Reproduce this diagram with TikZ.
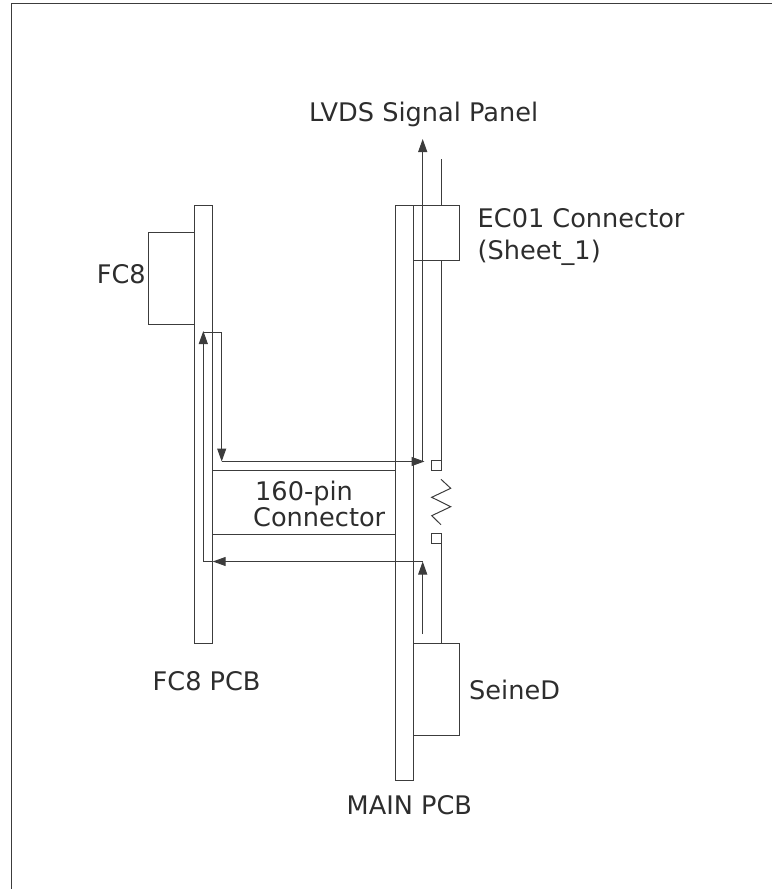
\documentclass[tikz,border=0pt]{standalone}
\usepackage{fontspec}
\setmainfont{DejaVu Sans}
\usetikzlibrary{arrows.meta,positioning,calc}
\definecolor{cLine}{RGB}{60,60,60}
\definecolor{cText}{RGB}{45,45,45}
\tikzset{
	pcbbox/.style={draw=cLine, line width=1pt, fill=none, inner sep=0pt, outer sep=0pt,
		anchor=north west},
	padbox/.style={pcbbox, minimum width=9.5pt, minimum height=9.5pt},
	marr/.style={-{Triangle[length=13pt,width=9pt]}, line width=1pt, draw=cLine},
	mline/.style={line width=1pt, draw=cLine},
	mlabel/.style={font=\fontsize{25.6}{32}\selectfont, text=cText, inner sep=0pt, anchor=base west, align=left},
}
\begin{document}
\begin{tikzpicture}[x=1pt,y=-1pt]
	\useasboundingbox (0,0) rectangle (772,889);
	% frame
	\coordinate (fbl) at (11,889);
	\coordinate (ftl) at (11,3.5);
	\coordinate (ftr) at (772,3.5);
	\draw[mline] (fbl) -- (ftl) -- (ftr);
	% boards
	\node[pcbbox, minimum width=18.5pt, minimum height=438pt] (fcpcb) at (194,205) {};
	\node[pcbbox, minimum width=18.5pt, minimum height=575.5pt] (mainpcb) at (395,205) {};
	\node[pcbbox, minimum width=46pt, minimum height=92pt] (fcchip) at (148,232) {};
	\node[pcbbox, minimum width=46pt, minimum height=55pt] (ecconn) at (413.5,205) {};
	\node[pcbbox, minimum width=45.5pt, minimum height=91.5pt] (seine) at (413.5,643.5) {};
	\node[pcbbox, minimum width=182.5pt, minimum height=64pt] (pinconn) at (212.5,470) {};
	\node[padbox] (padtop) at (431.5,460.8) {};
	\node[padbox] (padbot) at (431.5,533.8) {};
	% labels
	\node[mlabel] (lvds) at (309,121) {LVDS Signal Panel};
	\node[mlabel] (eclab) at (477.5,259) {EC01 Connector\\(Sheet\_1)};
	\node[mlabel] (fclab) at (96.7,283.5) {FC8};
	\node[mlabel, font=\fontsize{25.6}{26}\selectfont] (pinlab) at (253,526.7) {\hspace{2pt}160-pin\\Connector};
	\node[mlabel] (fcpcblab) at (152.5,690) {FC8 PCB};
	\node[mlabel] (seinelab) at (469,699) {SeineD};
	\node[mlabel] (mainlab) at (346.5,814) {MAIN PCB};
	% signal stubs on the main board
	\coordinate (stubtop) at (441,159);
	\draw[mline] (stubtop) -- (stubtop |- ecconn.north);
	\draw[mline] (stubtop |- ecconn.south) -- (padtop.north east);
	\draw[mline] (padbot.south east) -- (stubtop |- seine.north);
	% resistor
	\coordinate (ra) at (441,479.3);
	\coordinate (rb) at (450.7,488.3);
	\coordinate (rc) at (431.7,497.3);
	\coordinate (rd) at (450.7,506.7);
	\coordinate (re) at (431.7,515.7);
	\coordinate (rf) at (441,524.7);
	\draw[mline] (ra) -- (rb) -- (rc) -- (rd) -- (re) -- (rf);
	% signal path
	\coordinate (outtop) at (422.7,139);
	\coordinate (topturn) at (422.7,461);
	\coordinate (leftturn) at (221.7,461.5);
	\coordinate (upper) at (221.7,332.7);
	\coordinate (upleft) at (203.3,332.7);
	\coordinate (lowleft) at (203.3,561.5);
	\coordinate (lowin) at (212.7,561.5);
	\coordinate (lowright) at (422.7,561.5);
	\coordinate (seinetop) at (422.7,634);
	\draw[marr] (topturn) -- (outtop);
	\draw[marr] (upleft) -- (upper) -- (leftturn);
	\draw[marr] (leftturn) -- (424.5,461.5);
	\draw[marr] (lowright) -- (lowin);
	\draw[mline] (lowin) -- (lowleft);
	\draw[marr] (lowleft) -- (203.3,331);
	\draw[marr] (seinetop) -- (lowright);
\end{tikzpicture}
\end{document}
